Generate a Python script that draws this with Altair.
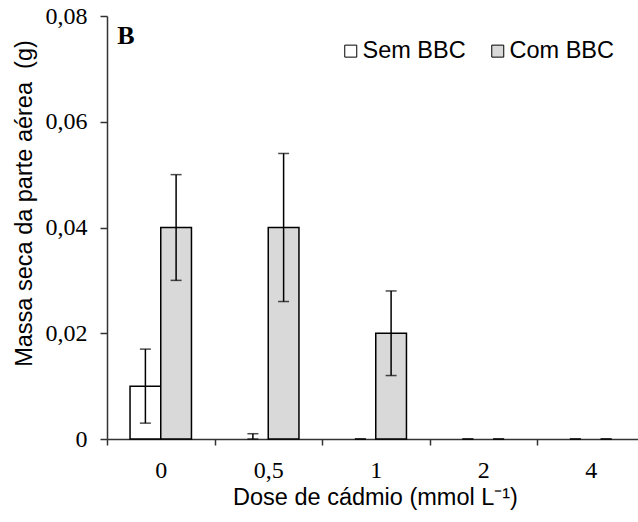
import altair as alt
import pandas as pd

# Doses de cádmio (mmol/L) e séries
doses = ["0", "0,5", "1", "2", "4"]
series = ["Sem BBC", "Com BBC"]

sem_bbc = [0.010, 0.0, 0.0, 0.0, 0.0]
sem_lo = [0.003, 0.0, 0.0, 0.0, 0.0]
sem_hi = [0.017, 0.001, 0.0, 0.0, 0.0]

com_bbc = [0.040, 0.040, 0.020, 0.0, 0.0]
com_lo = [0.030, 0.026, 0.012, 0.0, 0.0]
com_hi = [0.050, 0.054, 0.028, 0.0, 0.0]

rows = []
for i, d in enumerate(doses):
    rows.append({"dose": d, "serie": "Sem BBC", "valor": sem_bbc[i], "lo": sem_lo[i], "hi": sem_hi[i]})
    rows.append({"dose": d, "serie": "Com BBC", "valor": com_bbc[i], "lo": com_lo[i], "hi": com_hi[i]})
df = pd.DataFrame(rows)

SERIF = "Liberation Serif"
SANS = "Liberation Sans"

x_enc = alt.X(
    "dose:N",
    sort=doses,
    scale=alt.Scale(domain=doses, range=[0, 537.5], paddingInner=0, paddingOuter=0),
    axis=alt.Axis(
        title="Dose de cádmio (mmol L\u207b\u00b9)",
        titleFont=SANS, titleFontSize=23.5, titleFontWeight="normal", titleColor="black",
        titleX=268, titleY=58, titleBaseline="middle", titleAlign="center",
        labelFont=SERIF, labelFontSize=24, labelColor="black", labelAngle=0,
        labelBaseline="middle", labelPadding=25,
        tickBand="extent", tickSize=6, tickWidth=1.5, tickColor="#333333",
        domainColor="#333333", domainWidth=1.5, grid=False,
    ),
)
xoff_enc = alt.XOffset(
    "serie:N",
    sort=series,
    scale=alt.Scale(domain=series, paddingInner=0, paddingOuter=0.75),
)
y_scale = alt.Scale(domain=[0, 0.08], nice=False, zero=True)
y_axis = alt.Axis(
    title="Massa seca da parte aérea\u00a0 (g)",
    titleFont=SANS, titleFontSize=23.5, titleFontWeight="normal", titleColor="black",
    titleAngle=270, titleX=-83, titleY=187, titleBaseline="middle", titleAlign="center",
    values=[0, 0.02, 0.04, 0.06, 0.08],
    labelExpr="datum.value == 0 ? '0' : replace(format(datum.value, '.2f'), '.', ',')",
    labelFont=SERIF, labelFontSize=24, labelColor="black", labelPadding=13,
    tickSize=7, tickWidth=1.5, tickColor="#333333",
    domainColor="#333333", domainWidth=1.5, grid=False,
)

base = alt.Chart(df)

bars = base.transform_filter("datum.valor > 0").mark_bar(
    stroke="black", strokeWidth=1.5
).encode(
    x=x_enc,
    xOffset=xoff_enc,
    y=alt.Y("valor:Q", scale=y_scale, axis=y_axis),
    color=alt.Color(
        "serie:N",
        scale=alt.Scale(domain=series, range=["white", "#d9d9d9"]),
        legend=alt.Legend(
            title=None, orient="none", direction="horizontal",
            legendX=232, legendY=23, padding=0,
            symbolType="square", symbolSize=144,
            symbolStrokeColor="black", symbolStrokeWidth=1,
            labelFont=SANS, labelFontSize=23.5, labelColor="black",
            labelOffset=0, columnPadding=20,
        ),
    ),
)

err_rule = base.mark_rule(color="black", strokeWidth=1.5).encode(
    x=alt.X("dose:N", sort=doses),
    xOffset=alt.XOffset("serie:N", sort=series),
    y=alt.Y("lo:Q"),
    y2="hi:Q",
)
cap_lo = base.mark_tick(color="black", thickness=1.5, size=11, orient="horizontal").encode(
    x=alt.X("dose:N", sort=doses),
    xOffset=alt.XOffset("serie:N", sort=series),
    y=alt.Y("lo:Q"),
)
cap_hi = base.mark_tick(color="black", thickness=1.5, size=11, orient="horizontal").encode(
    x=alt.X("dose:N", sort=doses),
    xOffset=alt.XOffset("serie:N", sort=series),
    y=alt.Y("hi:Q"),
)

panel = alt.Chart(pd.DataFrame({"t": ["B"]})).mark_text(
    font=SERIF, fontSize=26, fontWeight="bold", color="black",
    align="center", baseline="middle",
).encode(x=alt.value(19), y=alt.value(20), text="t:N")

chart = alt.layer(bars, err_rule, cap_lo, cap_hi, panel).properties(
    width=531,
    height=423,
    autosize=alt.AutoSizeParams(type="none"),
    padding={"left": 107, "top": 16, "right": 0, "bottom": 83},
    background="white",
).configure_view(strokeWidth=0)

chart.save("out.html", embed_options={"renderer": "svg", "actions": False})
